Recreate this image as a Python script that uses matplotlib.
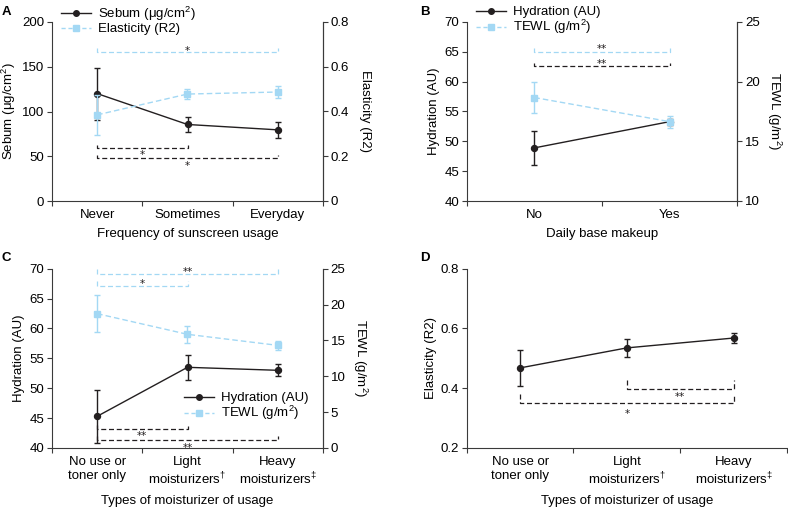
import matplotlib
matplotlib.use("Agg")
import matplotlib.pyplot as plt
from matplotlib.lines import Line2D

plt.rcParams['font.family'] = ['Liberation Sans', 'DejaVu Sans']
plt.rcParams['mathtext.fontset'] = 'custom'
plt.rcParams['mathtext.rm'] = 'Liberation Sans'
plt.rcParams['mathtext.it'] = 'Liberation Sans:italic'

BLACK = '#231f20'
BLUE = '#a3d8f4'
GRAY = '#3a3a3a'

# ---------------- data ----------------
# Panel A
a_cats = ['Never', 'Sometimes', 'Everyday']
a_sebum = [120, 85.5, 79.5]
a_sebum_err = [29, 8, 9]
a_elast = [0.385, 0.478, 0.487]
a_elast_err = [0.088, 0.024, 0.026]

# Panel B
b_cats = ['No', 'Yes']
b_hyd = [48.9, 53.3]
b_hyd_err = [2.85, 0.5]
b_tewl = [18.67, 16.65]
b_tewl_err = [1.3, 0.5]

# Panel C
c_cats = ['No use or\ntoner only', 'Light\nmoisturizers$^{\\dagger}$', 'Heavy\nmoisturizers$^{\\ddagger}$']
c_hyd = [45.3, 53.5, 53.0]
c_hyd_err = [4.4, 2.1, 1.0]
c_tewl = [18.73, 15.85, 14.31]
c_tewl_err = [2.6, 1.2, 0.6]

# Panel D
d_cats = c_cats
d_elast = [0.468, 0.535, 0.568]
d_elast_err = [0.061, 0.03, 0.016]

# significance brackets: (i, j, y, direction, label, label offset in points)
a_sig_blue = [(0, 2, 166, -1, '*', 3.4)]
a_sig_black = [(0, 1, 59, 1, '*', 2.8), (0, 2, 47.5, 1, '*', 3.2)]
b_sig_blue = [(0, 1, 65.0, -1, '**', 4.0)]
b_sig_black = [(0, 1, 62.6, -1, '**', 3.6)]
c_sig_blue = [(0, 2, 69.1, -1, '**', 3.6), (0, 1, 67.1, -1, '*', 3.6)]
c_sig_black = [(0, 1, 43.2, 1, '**', 3.2), (0, 2, 41.4, 1, '**', 3.6)]
d_sig_black = [(1, 2, 0.399, 1, '**', 3.6), (0, 2, 0.35, 1, '*', 5.8)]

W, H = 788, 507
fig = plt.figure(figsize=(W / 100, H / 100), dpi=100)
FS = 9.5
SFS = 7.5


def rect(l, t, r, b):
    return [l / W, 1 - b / H, (r - l) / W, (b - t) / H]


def style(ax, ncat, labels, right=None):
    ax.set_xlim(0, ncat)
    ax.set_xticks(range(ncat + 1))
    ax.set_xticklabels([])
    ax.set_xticks([i + 0.5 for i in range(ncat)], minor=True)
    ax.set_xticklabels(labels, minor=True, fontsize=FS)
    ax.tick_params(axis='x', which='minor', length=0, pad=6)
    ax.tick_params(axis='x', which='major', length=3.5, width=0.8, color=GRAY)
    ax.tick_params(axis='y', length=3.5, width=0.8, color=GRAY, labelsize=FS, pad=2)
    ax.spines['top'].set_visible(False)
    for s in ['left', 'bottom', 'right']:
        ax.spines[s].set_color(GRAY)
        ax.spines[s].set_linewidth(0.8)
    if right is None:
        ax.spines['right'].set_visible(False)


def bracket(ax, sigs, color, h):
    for i, j, y, d, lab, off in sigs:
        x1, x2 = i + 0.5, j + 0.5
        ax.plot([x1, x1, x2, x2], [y + d * h, y, y, y + d * h], color=color,
                ls=(0, (4, 2.2)), lw=0.9, clip_on=False, zorder=1)
        # asterisk glyph centre sits ~0.58 em above the baseline
        ax.annotate(lab, ((x1 + x2) / 2, y), xytext=(0, -d * off - 0.58 * SFS),
                    textcoords='offset points', ha='center', va='baseline',
                    fontsize=SFS, color=BLACK, annotation_clip=False,
                    family='DejaVu Sans')


def series(ax, x, y, e, color, marker, ls, label):
    return ax.errorbar(x, y, yerr=e, color=color, marker=marker, ms=4.3, ls=ls,
                       lw=1.0, elinewidth=1.0, capsize=2.5, capthick=1.0,
                       dashes=(4, 2.2) if ls == '--' else (None, None),
                       label=label, clip_on=False, zorder=3)


def twin_style(ax2):
    ax2.tick_params(axis='y', length=3.5, width=0.8, color=GRAY, labelsize=FS, pad=2)
    for s in ['top', 'left', 'bottom']:
        ax2.spines[s].set_visible(False)
    ax2.spines['right'].set_color(GRAY)
    ax2.spines['right'].set_linewidth(0.8)


def handles():
    return [Line2D([], [], color=BLACK, marker='o', ms=4, lw=1.0),
            Line2D([], [], color=BLUE, marker='s', ms=4, lw=1.0, ls=(0, (3, 2)))]


LEG = dict(frameon=False, fontsize=FS, handlelength=2.3, handletextpad=0.5,
           labelspacing=0.0, borderpad=0.1, loc='upper left')

# ---------------- Panel A ----------------
axA = fig.add_axes(rect(52, 22, 323, 201))
style(axA, 3, a_cats, right=True)
axA.set_ylim(0, 200)
axA.set_yticks([0, 50, 100, 150, 200])
xa = [i + 0.5 for i in range(3)]
series(axA, xa, a_sebum, a_sebum_err, BLACK, 'o', '-', 'Sebum (μg/cm$^2$)')
axA.set_ylabel('Sebum (μg/cm$^2$)', fontsize=FS, labelpad=3)
axA.set_xlabel('Frequency of sunscreen usage', fontsize=FS, labelpad=5)
bracket(axA, a_sig_black, BLACK, 4)
bracket(axA, a_sig_blue, BLUE, -5)
axA2 = axA.twinx()
axA2.set_ylim(0, 0.8)
axA2.set_yticks([0, 0.2, 0.4, 0.6, 0.8])
axA2.set_yticklabels(['0', '0.2', '0.4', '0.6', '0.8'])
twin_style(axA2)
series(axA2, xa, a_elast, a_elast_err, BLUE, 's', '--', 'Elasticity (R2)')
axA2.set_ylabel('Elasticity (R2)', fontsize=FS, rotation=270, labelpad=16)
fig.text(2 / W, 1 - 12 / H, 'A', fontsize=9.5, fontweight='bold', va='center')
fig.legend(handles(), ['Sebum (μg/cm$^2$)', 'Elasticity (R2)'],
           bbox_to_anchor=(53 / W, 1 + 3 / H), **LEG)

# ---------------- Panel B ----------------
axB = fig.add_axes(rect(466.7, 22, 737.3, 201))
style(axB, 2, b_cats, right=True)
axB.set_ylim(40, 70)
axB.set_yticks(range(40, 71, 5))
xb = [i + 0.5 for i in range(2)]
series(axB, xb, b_hyd, b_hyd_err, BLACK, 'o', '-', 'Hydration (AU)')
axB.set_ylabel('Hydration (AU)', fontsize=FS, labelpad=3)
axB.set_xlabel('Daily base makeup', fontsize=FS, labelpad=5)
bracket(axB, b_sig_black, BLACK, -0.6)
bracket(axB, b_sig_blue, BLUE, -0.6)
axB2 = axB.twinx()
axB2.set_ylim(10, 25)
axB2.set_yticks([10, 15, 20, 25])
twin_style(axB2)
series(axB2, xb, b_tewl, b_tewl_err, BLUE, 's', '--', 'TEWL (g/m$^2$)')
axB2.set_ylabel('TEWL (g/m$^2$)', fontsize=FS, rotation=270, labelpad=17)
fig.text(420 / W, 1 - 12 / H, 'B', fontsize=9.5, fontweight='bold', va='center')
fig.legend(handles(), ['Hydration (AU)', 'TEWL (g/m$^2$)'],
           bbox_to_anchor=(468 / W, 1 + 2 / H), **LEG)

# ---------------- Panel C ----------------
axC = fig.add_axes(rect(52, 268.7, 323, 448))
style(axC, 3, c_cats, right=True)
axC.set_ylim(40, 70)
axC.set_yticks(range(40, 71, 5))
xc = [i + 0.5 for i in range(3)]
series(axC, xc, c_hyd, c_hyd_err, BLACK, 'o', '-', 'Hydration (AU)')
axC.set_ylabel('Hydration (AU)', fontsize=FS, labelpad=3)
axC.set_xlabel('Types of moisturizer of usage', fontsize=FS, labelpad=5)
bracket(axC, c_sig_black, BLACK, 0.6)
bracket(axC, c_sig_blue, BLUE, -0.9)
axC2 = axC.twinx()
axC2.set_ylim(0, 25)
axC2.set_yticks([0, 5, 10, 15, 20, 25])
twin_style(axC2)
series(axC2, xc, c_tewl, c_tewl_err, BLUE, 's', '--', 'TEWL (g/m$^2$)')
axC2.set_ylabel('TEWL (g/m$^2$)', fontsize=FS, rotation=270, labelpad=17)
fig.text(2 / W, 1 - 258 / H, 'C', fontsize=9.5, fontweight='bold', va='center')
axC2.legend(handles(), ['Hydration (AU)', 'TEWL (g/m$^2$)'],
            bbox_to_anchor=(176 / W, 1 - 384 / H), bbox_transform=fig.transFigure, **LEG)

# ---------------- Panel D ----------------
axD = fig.add_axes(rect(466.7, 268.7, 787, 448))
style(axD, 3, d_cats)
axD.set_ylim(0.2, 0.8)
axD.set_yticks([0.2, 0.4, 0.6, 0.8])
axD.set_yticklabels(['0.2', '0.4', '0.6', '0.8'])
xd = [i + 0.5 for i in range(3)]
series(axD, xd, d_elast, d_elast_err, BLACK, 'o', '-', 'Elasticity (R2)')
axD.set_ylabel('Elasticity (R2)', fontsize=FS, labelpad=3)
axD.set_xlabel('Types of moisturizer of usage', fontsize=FS, labelpad=5)
bracket(axD, d_sig_black, BLACK, 0.03)
fig.text(420 / W, 1 - 258 / H, 'D', fontsize=9.5, fontweight='bold', va='center')

fig.savefig('out.png', dpi=100)
